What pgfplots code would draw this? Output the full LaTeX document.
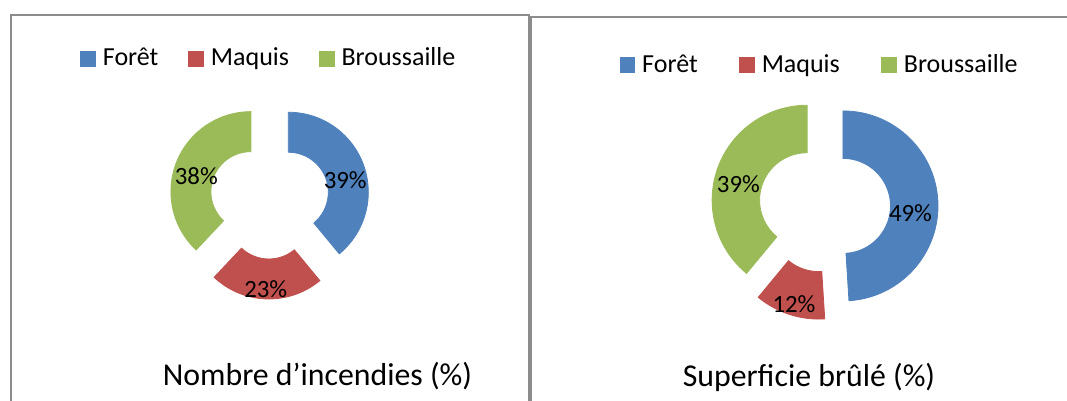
\documentclass[border=0pt]{standalone}
\usepackage{fontspec}
\setmainfont{Carlito}
\usepackage{pgfplots}
\pgfplotsset{compat=1.18}
\usepackage{pgfplotstable}
\definecolor{slice0}{HTML}{4F81BD}
\definecolor{slice1}{HTML}{C0504D}
\definecolor{slice2}{HTML}{9BBB59}
\definecolor{boxgray}{HTML}{8C8C8C}
\newcommand\titlefont{\fontsize{15.9}{19}\selectfont}
\newcommand\legfont{\fontsize{13}{15.6}\selectfont}
\newcommand\labelfont{\fontsize{12.4}{14.9}\selectfont}
\pgfdeclareplotmark{nothing}{}

% idx: slice, pct: value (%), start: cumulative % before slice, lx/ly: label offset (pt)
\pgfplotstableread{
idx pct start lx ly
0 39 0 37.85 9.5
1 23 39 -1.9 -45.15
2 38 62 -36.6 11.7
}\incendies
\pgfplotstableread{
idx pct start lx ly
0 49 0 43 -3.25
1 12 49 -15.25 -48.9
2 39 61 -43.05 11.25
}\superficie

\pgfplotsset{
  donut/.style n args={3}{%
    scatter, only marks, mark=nothing, forget plot,
    point meta=explicit,
    visualization depends on={\thisrow{idx}\as\idx},
    visualization depends on={\thisrow{pct}\as\pct},
    visualization depends on={\thisrow{start}\as\start},
    visualization depends on={\thisrow{lx}\as\lx},
    visualization depends on={\thisrow{ly}\as\ly},
    scatter/@pre marker code/.code={%
      \pgfmathtruncatemacro\ii{\idx}%
      \pgfmathtruncatemacro\pp{\pct}%
      \pgfmathsetmacro\aA{90-3.6*\start}%
      \pgfmathsetmacro\aB{90-3.6*(\start+\pct)}%
      \pgfmathsetmacro\aM{(\aA+\aB)/2}%
      \pgfmathsetmacro\dx{#3*cos(\aM)}%
      \pgfmathsetmacro\dy{#3*sin(\aM)}%
      \pgfmathsetmacro\xo{\dx+#1*cos(\aA)}%
      \pgfmathsetmacro\yo{\dy+#1*sin(\aA)}%
      \pgfmathsetmacro\xi{\dx+#2*cos(\aB)}%
      \pgfmathsetmacro\yi{\dy+#2*sin(\aB)}%
      \fill[slice\ii] (\xo pt,\yo pt) arc[start angle=\aA,end angle=\aB,radius=#1pt]
          -- (\xi pt,\yi pt) arc[start angle=\aB,end angle=\aA,radius=#2pt] -- cycle;
      \node[font=\labelfont, text=black, inner sep=0pt, text depth=0pt, anchor=center]
        at (\lx pt,\ly pt) {\pp\%};
    },
    scatter/@post marker code/.code={},
  },
  donutaxis/.style={
    x=1pt, y=1pt, xmin=-100, xmax=100, ymin=-100, ymax=100,
    hide axis, clip=false, anchor=center,
    legend columns=3,
    legend style={draw=none, fill=none, inner sep=0pt, font=\legfont,
      anchor=center, cells={anchor=base west}, nodes={inner sep=0pt},
      /tikz/every odd column/.append style={column sep=3.5pt}},
  },
  sq/.style={legend image code/.code={\fill[#1] (0pt,0pt) rectangle (7.35pt,7.35pt);}},
}

\begin{document}
\begin{tikzpicture}
\useasboundingbox (0,0) rectangle (533.5pt,200.5pt);
\begin{scope}
\clip (0,0) rectangle (533.5pt,200.5pt);
\draw[boxgray, line width=1pt] (5.5pt,-10pt) -- (5.5pt,192.75pt) -- (264.4pt,192.75pt) -- (264.4pt,-10pt);
\draw[boxgray, line width=1pt] (265.4pt,-10pt) -- (265.4pt,191.75pt) -- (545pt,191.75pt);
\end{scope}

\begin{axis}[donutaxis, at={(134.75pt,101pt)},
  legend style={at={(0.496,0.8515)},
    /tikz/every even column/.append style={column sep=15pt}}]
\addlegendimage{sq=slice0}\addlegendentry{Forêt}
\addlegendimage{sq=slice1}\addlegendentry{Maquis}
\addlegendimage{sq=slice2}\addlegendentry{Broussaille}
\addplot[donut={40}{20}{10}] table[x expr=0, y expr=0, meta=pct] {\incendies};
\end{axis}

\begin{axis}[donutaxis, at={(412.25pt,97.25pt)},
  legend style={at={(0.4855,0.855)},
    /tikz/every even column/.append style={column sep=20.75pt}}]
\addlegendimage{sq=slice0}\addlegendentry{Forêt}
\addlegendimage{sq=slice1}\addlegendentry{Maquis}
\addlegendimage{sq=slice2}\addlegendentry{Broussaille}
\addplot[donut={47.5}{23.75}{9.25}] table[x expr=0, y expr=0, meta=pct] {\superficie};
\end{axis}

\node[anchor=base, font=\titlefont] at (158.75pt,7.65pt) {Nombre d’incendies (\%)};
\node[anchor=base, font=\titlefont] at (404.5pt,7.0pt) {Superficie brûlé (\%)};
\end{tikzpicture}
\end{document}
